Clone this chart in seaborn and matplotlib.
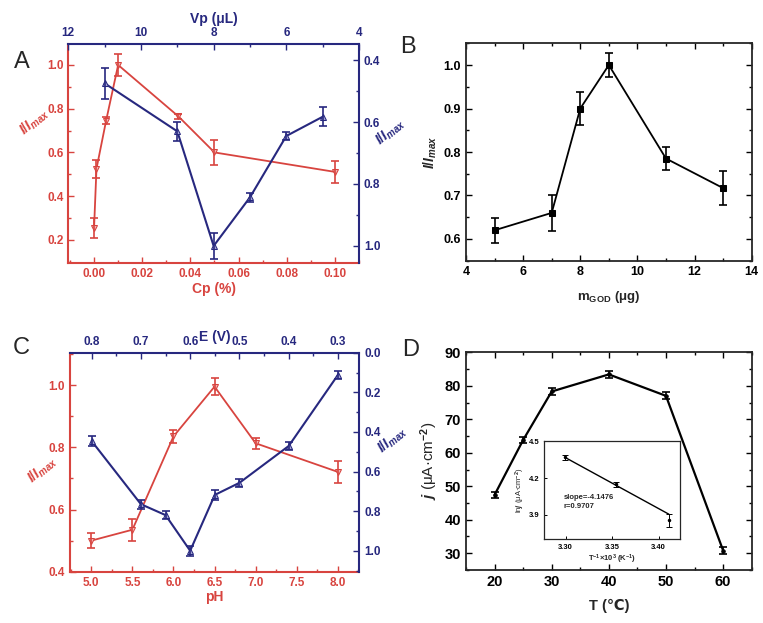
import matplotlib
matplotlib.use("Agg")
import matplotlib.pyplot as plt
import seaborn as sns
from matplotlib.ticker import MultipleLocator

sns.set_style("ticks")
plt.rcParams['font.family'] = ['Liberation Sans', 'DejaVu Sans']
plt.rcParams['font.weight'] = 'bold'
plt.rcParams['mathtext.fontset'] = 'custom'
plt.rcParams['mathtext.rm'] = 'Liberation Sans:bold'
plt.rcParams['mathtext.bf'] = 'Liberation Sans:bold'
plt.rcParams['mathtext.it'] = 'Liberation Sans:italic:bold'
plt.rcParams['xtick.direction'] = 'in'
plt.rcParams['ytick.direction'] = 'in'

RED = '#d8443f'
BLUE = '#27287f'

# panel A: red series vs Cp (%), blue series vs Vp (uL)
cp = [0.0, 0.001, 0.005, 0.01, 0.035, 0.05, 0.10]
cp_i = [0.255, 0.525, 0.745, 1.0, 0.765, 0.60, 0.511]
cp_err = [0.045, 0.04, 0.015, 0.05, 0.012, 0.057, 0.052]
vp = [11, 9, 8, 7, 6, 5]
vp_i = [0.475, 0.63, 1.0, 0.843, 0.645, 0.583]
vp_err = [0.05, 0.03, 0.042, 0.015, 0.013, 0.031]

# panel B
m_god = [5, 7, 8, 9, 11, 13]
m_i = [0.62, 0.66, 0.90, 1.0, 0.785, 0.717]
m_err = [0.029, 0.042, 0.038, 0.027, 0.027, 0.04]

# panel C: red vs pH, blue vs E (V)
ph = [5.0, 5.5, 6.0, 6.5, 7.0, 8.0]
ph_i = [0.50, 0.535, 0.835, 0.995, 0.813, 0.721]
ph_err = [0.024, 0.036, 0.02, 0.027, 0.017, 0.035]
e_v = [0.8, 0.7, 0.65, 0.6, 0.55, 0.5, 0.4, 0.3]
e_i = [0.446, 0.765, 0.82, 1.0, 0.718, 0.657, 0.471, 0.112]
e_err = [0.027, 0.022, 0.022, 0.025, 0.025, 0.02, 0.018, 0.022]

# panel D + inset
temp = [20, 25, 30, 40, 50, 60]
j_val = [47.4, 63.8, 78.3, 83.4, 77.0, 30.8]
j_err = [1.0, 1.0, 1.0, 1.0, 1.0, 1.0]
inv_t = [3.299, 3.354, 3.411]
ln_j = [4.37, 4.15, 3.855]
ln_err = [0.02, 0.02, 0.055]
fit_x = [3.299, 3.411]
fit_y = [4.37, 3.905]

fig = plt.figure(figsize=(7.63, 6.23), dpi=100)


def series(ax, x, y, err, color, marker, mfc, lw=1.3, ms=5):
    sns.lineplot(x=x, y=y, ax=ax, color=color, lw=lw, marker=marker, markersize=ms,
                 markerfacecolor=mfc, markeredgecolor=color, legend=False)
    ax.errorbar(x, y, yerr=err, fmt='none', ecolor=color, elinewidth=1.2,
                capsize=3, capthick=1.2)


def style(ax, color, fs=8.5):
    ax.tick_params(which='both', colors=color, labelsize=fs)
    ax.tick_params(which='major', length=4, width=1)
    ax.tick_params(which='minor', length=2.5, width=1)
    for lab in ax.get_xticklabels() + ax.get_yticklabels():
        lab.set_fontweight('bold')


def dual(rect, c_red, c_blue):
    ax = fig.add_axes(rect)
    ax2 = fig.add_axes(rect, facecolor='none')
    ax2.xaxis.set_label_position('top')
    ax2.xaxis.tick_top()
    ax2.yaxis.set_label_position('right')
    ax2.yaxis.tick_right()
    for s in ['top', 'right']:
        ax.spines[s].set_visible(False)
        ax2.spines[s].set_color(c_blue)
        ax2.spines[s].set_linewidth(1.5)
    for s in ['left', 'bottom']:
        ax2.spines[s].set_visible(False)
        ax.spines[s].set_color(c_red)
        ax.spines[s].set_linewidth(1.5)
    return ax, ax2


# ---- A ----
axA, axA2 = dual([0.0895, 0.5774, 0.381, 0.352], RED, BLUE)
series(axA, cp, cp_i, cp_err, RED, 'v', '#f2b8b8', ms=4.5)
series(axA2, vp, vp_i, vp_err, BLUE, '^', '#a9a9d8', lw=1.5, ms=4.5)
axA.set_xlim(-0.0107, 0.11)
axA.set_ylim(0.093, 1.096)
axA.xaxis.set_minor_locator(MultipleLocator(0.01))
axA.yaxis.set_minor_locator(MultipleLocator(0.1))
axA.set_xticks([0.0, 0.02, 0.04, 0.06, 0.08, 0.10])
axA.set_xticklabels(['0.00', '0.02', '0.04', '0.06', '0.08', '0.10'])
axA.set_yticks([0.2, 0.4, 0.6, 0.8, 1.0])
axA.set_yticklabels(['0.2', '0.4', '0.6', '0.8', '1.0'])
axA2.set_xlim(12, 4)
axA2.set_ylim(1.056, 0.348)
axA2.set_xticks([12, 10, 8, 6, 4])
axA2.xaxis.set_minor_locator(MultipleLocator(1))
axA2.set_yticks([0.4, 0.6, 0.8, 1.0])
axA2.set_yticklabels(['0.4', '0.6', '0.8', '1.0'])
axA2.yaxis.set_minor_locator(MultipleLocator(0.1))
style(axA, RED)
style(axA2, BLUE)
axA.set_xlabel('Cp (%)', color=RED, fontsize=10, fontweight='bold', labelpad=1)
axA.set_ylabel('')
axA2.set_xlabel('Vp (μL)', color=BLUE, fontsize=10, fontweight='bold', labelpad=3)
axA2.set_ylabel('')
fig.text(34 / 763, 1 - 122 / 623, '$I/I_{max}$', color=RED, fontsize=10, rotation=40,
         ha='center', va='center')
fig.text(390 / 763, 1 - 132 / 623, '$I/I_{max}$', color=BLUE, fontsize=10, rotation=40,
         ha='center', va='center')

# ---- B ----
axB = fig.add_axes([0.6107, 0.5815, 0.3745, 0.349])
series(axB, m_god, m_i, m_err, 'black', 's', 'black', ms=4)
axB.set_xlim(4, 14)
axB.set_ylim(0.55, 1.05)
axB.xaxis.set_major_locator(MultipleLocator(2))
axB.xaxis.set_minor_locator(MultipleLocator(1))
axB.set_yticks([0.6, 0.7, 0.8, 0.9, 1.0])
axB.set_yticklabels(['0.6', '0.7', '0.8', '0.9', '1.0'])
axB.yaxis.set_minor_locator(MultipleLocator(0.05))
axB.tick_params(which='both', top=True, right=True)
for s in axB.spines.values():
    s.set_linewidth(1.3)
style(axB, 'black', fs=9)
axB.set_xlabel('m$_{\\mathrm{GOD}}$ (μg)', fontsize=9.5, fontweight='bold', labelpad=8)
axB.set_ylabel('$I/I_{max}$', fontsize=10, labelpad=3)

# ---- C ----
axC, axC2 = dual([0.0917, 0.0823, 0.379, 0.3515], RED, BLUE)
series(axC, ph, ph_i, ph_err, RED, 'v', '#f2b8b8', ms=4.5)
series(axC2, e_v, e_i, e_err, BLUE, '^', '#a9a9d8', lw=1.5, ms=4.5)
axC.set_xlim(4.74, 8.26)
axC.set_ylim(0.4, 1.104)
axC.set_xticks([5.0, 5.5, 6.0, 6.5, 7.0, 7.5, 8.0])
axC.set_xticklabels(['5.0', '5.5', '6.0', '6.5', '7.0', '7.5', '8.0'])
axC.xaxis.set_minor_locator(MultipleLocator(0.25))
axC.set_yticks([0.4, 0.6, 0.8, 1.0])
axC.set_yticklabels(['0.4', '0.6', '0.8', '1.0'])
axC.yaxis.set_minor_locator(MultipleLocator(0.1))
axC2.set_xlim(0.844, 0.257)
axC2.set_ylim(1.106, 0.0)
axC2.set_xticks([0.8, 0.7, 0.6, 0.5, 0.4, 0.3])
axC2.set_xticklabels(['0.8', '0.7', '0.6', '0.5', '0.4', '0.3'])
axC2.xaxis.set_minor_locator(MultipleLocator(0.05))
axC2.set_yticks([0.0, 0.2, 0.4, 0.6, 0.8, 1.0])
axC2.set_yticklabels(['0.0', '0.2', '0.4', '0.6', '0.8', '1.0'])
axC2.yaxis.set_minor_locator(MultipleLocator(0.1))
style(axC, RED)
style(axC2, BLUE)
axC.set_xlabel('pH', color=RED, fontsize=10, fontweight='bold', labelpad=1)
axC.set_ylabel('')
axC2.set_xlabel('E (V)', color=BLUE, fontsize=10, fontweight='bold', labelpad=-4)
axC2.set_ylabel('')
fig.text(42 / 763, 1 - 470 / 623, '$I/I_{max}$', color=RED, fontsize=10, rotation=40,
         ha='center', va='center')
fig.text(392 / 763, 1 - 440 / 623, '$I/I_{max}$', color=BLUE, fontsize=10, rotation=40,
         ha='center', va='center')

# ---- D ----
axD = fig.add_axes([0.6107, 0.0851, 0.3745, 0.3494])
series(axD, temp, j_val, j_err, 'black', 'o', 'black', lw=1.6, ms=2.5)
axD.set_xlim(15, 65)
axD.set_ylim(25, 90)
axD.xaxis.set_major_locator(MultipleLocator(10))
axD.xaxis.set_minor_locator(MultipleLocator(5))
axD.yaxis.set_major_locator(MultipleLocator(10))
axD.yaxis.set_minor_locator(MultipleLocator(5))
axD.tick_params(which='both', top=True, right=True)
for s in axD.spines.values():
    s.set_linewidth(1.3)
style(axD, 'black', fs=10.5)
axD.set_xlabel('T (℃)', fontsize=10.5, fontweight='bold', labelpad=7)
axD.set_ylabel('$j$ (μA·cm$^{-2}$)', fontsize=11, labelpad=3)

axI = fig.add_axes([0.7134, 0.1343, 0.1779, 0.1573])
sns.lineplot(x=fit_x, y=fit_y, ax=axI, color='black', lw=1.0, legend=False)
axI.errorbar(inv_t, ln_j, yerr=ln_err, fmt='o', color='black', ms=1.5,
             elinewidth=0.7, capsize=2, capthick=0.7)
axI.set_xlim(3.277, 3.423)
axI.set_ylim(3.70, 4.5)
axI.set_xticks([3.30, 3.35, 3.40])
axI.set_xticklabels(['3.30', '3.35', '3.40'])
axI.set_yticks([3.9, 4.2, 4.5])
axI.set_yticklabels(['3.9', '4.2', '4.5'])
for s in axI.spines.values():
    s.set_linewidth(0.9)
style(axI, 'black', fs=5.5)
axI.tick_params(which='both', length=2, width=0.7)
axI.set_xlabel('T$^{-1}$×10$^{3}$ (K$^{-1}$)', fontsize=5.5, fontweight='bold', labelpad=1)
axI.set_ylabel('ln$j$ (μA·cm$^{-2}$)', fontsize=5.5, labelpad=1)
axI.text(3.298, 4.03, 'slope=-4.1476', fontsize=5.5, fontweight='bold')
axI.text(3.298, 3.955, 'r=0.9707', fontsize=5.5, fontweight='bold')

# panel letters
for letter, (x, y) in {'A': (22, 62), 'B': (408, 47), 'C': (21, 348), 'D': (411, 350)}.items():
    fig.text(x / 763, 1 - y / 623, letter, fontsize=17, fontweight='normal',
             ha='center', va='center')

fig.savefig('out.png', dpi=100)
